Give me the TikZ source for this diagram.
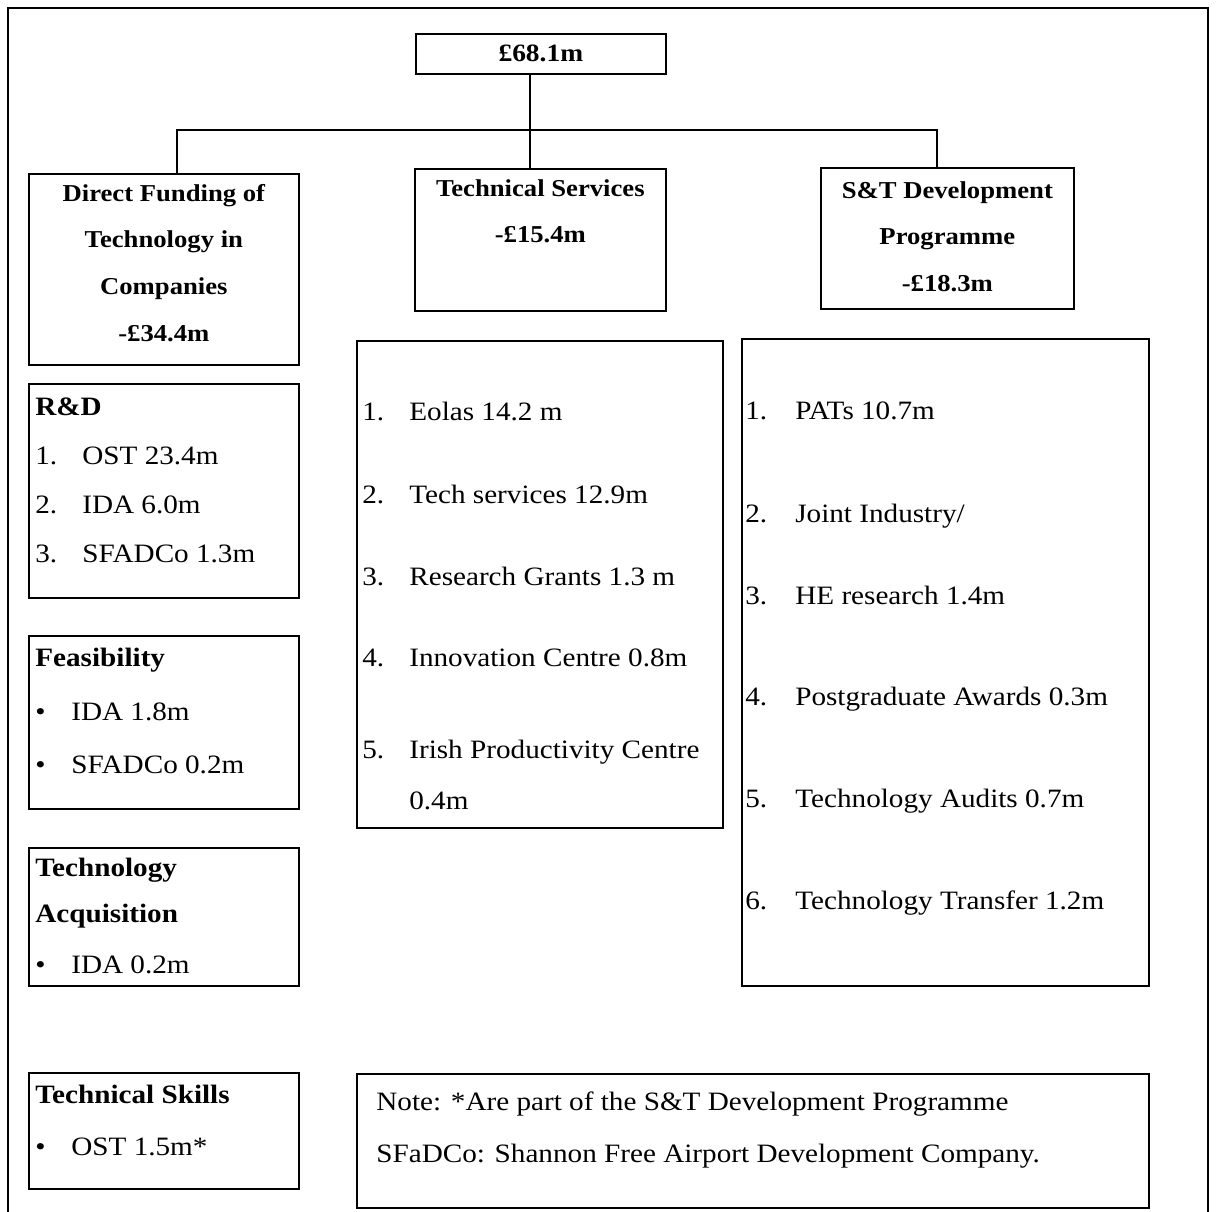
\documentclass[tikz,border=0pt]{standalone}
\usepackage{fontspec}
\setmainfont{Liberation Serif}[FakeStretch=1.1]
\usetikzlibrary{positioning}

\newcommand{\tflead}[2][0.94cm]{\makebox[#1][l]{#2}}

\tikzset{
  tf/.style={font=\fontsize{15.1}{27.9}\selectfont, text=black},
  tfbox/.style={draw=black, line width=1pt, inner sep=0pt, anchor=north west},
  tfhead/.style={font=\fontsize{13.8}{26.5}\selectfont\bfseries, align=center, inner sep=0pt},
  tflist/.style={font=\fontsize{15.1}{#1}\selectfont, align=left, inner sep=0pt},
  tfline/.style={draw=black, line width=1pt},
}

\begin{document}
\begin{tikzpicture}[x=0.02cm, y=-0.02cm, tf]
  \useasboundingbox (0,0) rectangle (1218,1212);
  % outer frame, open at the foot
  \draw[tfline] (8,1212) -- (8,8) -- (1208,8) -- (1208,1212);

  % top of the tree
  \node[tfbox, tfhead, font=\fontsize{14.2}{16}\selectfont\bfseries,
    minimum width=5cm, minimum height=0.8cm] (total) at (415,33) {£68.1m};

  \node[tfbox, minimum width=5.4cm, minimum height=3.82cm] (dfund) at (28,173) {};
  \node[tfhead, below=0.22cm of dfund.north]
    {Direct Funding of\\Technology in\\Companies\\-£34.4m};
  \node[tfbox, minimum width=5.02cm, minimum height=2.84cm] (techsv) at (414,168) {};
  \node[tfhead, below=0.22cm of techsv.north] {Technical Services\\-£15.4m};
  \node[tfbox, minimum width=5.06cm, minimum height=2.82cm] (stdev) at (820,167) {};
  \node[tfhead, below=0.28cm of stdev.north] {S\&T Development\\Programme\\-£18.3m};

  % connectors
  \coordinate (hub) at (530,130);
  \coordinate (jl) at (177,130);
  \coordinate (jr) at (937,130);
  \draw[tfline] (total.south -| hub) -- (hub |- techsv.north);
  \draw[tfline] (dfund.north -| jl) -- (jl) -- (jr) -- (jr |- stdev.north);

  % left column
  \node[tfbox, minimum width=5.4cm, minimum height=4.28cm] (rd) at (28,383) {};
  \node[tflist=0.98cm, below right=0.3cm and 0.14cm of rd.north west]
    {\textbf{R\&D}\\\tflead{1.}OST 23.4m\\\tflead{2.}IDA 6.0m\\\tflead{3.}SFADCo 1.3m};

  \node[tfbox, minimum width=5.4cm, minimum height=3.46cm] (feas) at (28,635) {};
  \node[tflist=1.07cm, below right=0.26cm and 0.14cm of feas.north west]
    {\textbf{Feasibility}\\\tflead[0.72cm]{•}IDA 1.8m\\\tflead[0.72cm]{•}SFADCo 0.2m};

  \node[tfbox, minimum width=5.4cm, minimum height=2.76cm] (techacq) at (28,847) {};
  \node[tflist=0.92cm, below right=0.22cm and 0.14cm of techacq.north west]
    {\textbf{Technology}\\\textbf{Acquisition}\\[0.1cm]\tflead[0.72cm]{•}IDA 0.2m};

  \node[tfbox, minimum width=5.4cm, minimum height=2.32cm] (skills) at (28,1072) {};
  \node[tflist=1.04cm, below right=0.26cm and 0.14cm of skills.north west]
    {\textbf{Technical Skills}\\\tflead[0.72cm]{•}OST 1.5m*};

  % middle column
  \node[tfbox, minimum width=7.32cm, minimum height=9.74cm] (tslist) at (356,340) {};
  \node[tflist=1.02cm, below right=1.24cm and 0.12cm of tslist.north west]
    {\tflead{1.}Eolas 14.2 m\\[0.63cm]
     \tflead{2.}Tech services 12.9m\\[0.62cm]
     \tflead{3.}Research Grants 1.3 m\\[0.6cm]
     \tflead{4.}Innovation Centre 0.8m\\[0.82cm]
     \tflead{5.}Irish Productivity Centre\\
     \tflead{}0.4m};

  % right column
  \node[tfbox, minimum width=8.14cm, minimum height=12.94cm] (stlist) at (741,338) {};
  \node[tflist=1.64cm, below right=1.28cm and 0.08cm of stlist.north west]
    {\tflead[1cm]{1.}PATs 10.7m\\[0.42cm]
     \tflead[1cm]{2.}Joint Industry/\\
     \tflead[1cm]{3.}HE research 1.4m\\[0.38cm]
     \tflead[1cm]{4.}Postgraduate Awards 0.3m\\[0.4cm]
     \tflead[1cm]{5.}Technology Audits 0.7m\\[0.4cm]
     \tflead[1cm]{6.}Technology Transfer 1.2m};

  % note
  \node[tfbox, minimum width=15.84cm, minimum height=2.68cm] (note) at (356,1073) {};
  \node[tflist=1.04cm, below right=0.36cm and 0.4cm of note.north west]
    {Note: *Are part of the S\&T Development Programme\\
     SFaDCo: Shannon Free Airport Development Company.};
\end{tikzpicture}
\end{document}
